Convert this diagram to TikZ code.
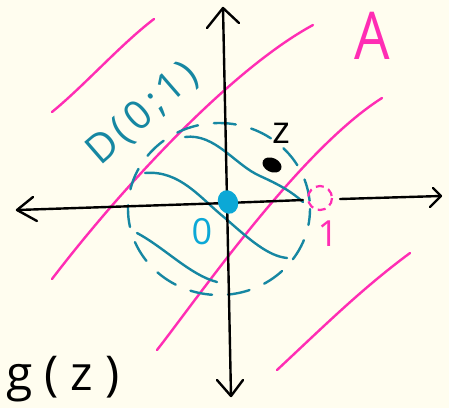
\documentclass[tikz,border=0pt]{standalone}
\usepackage{fontspec}
\setmainfont{Open Sans}
\definecolor{bg}{RGB}{255,253,239}
\definecolor{pinkc}{RGB}{255,45,180}
\definecolor{tealc}{RGB}{22,135,162}
\definecolor{cyanc}{RGB}{12,168,214}
\tikzset{
  pinkline/.style={draw=pinkc, line width=2.4pt, line cap=round, line join=round},
  axisline/.style={draw=black, line width=2.4pt, line cap=round, line join=round},
  tealline/.style={draw=tealc, line width=2.4pt, line cap=round},
  lbl/.style={inner sep=0pt, anchor=center},
}
\begin{document}
\begin{tikzpicture}[x=1pt,y=-1pt]
\useasboundingbox[fill=bg] (0,0) rectangle (449,408);
% coordinates for axes
\coordinate (ytop) at (223,8);
\coordinate (ymid) at (227,200);
\coordinate (ybot) at (231,396);
\coordinate (xleft) at (17,210);
\coordinate (xmid) at (227,203);
\coordinate (xgap) at (303,200);
\coordinate (xres) at (340,199);
\coordinate (xright) at (441,196);
% pink lines
\draw[pinkline] (52,112) .. controls (85,85) and (120,45) .. (154,19);
\draw[pinkline] (52,279) .. controls (120,190) and (230,70) .. (313,25);
\draw[pinkline] (157,350) .. controls (200,295) and (300,150) .. (382,98);
\draw[pinkline] (277,370) .. controls (320,330) and (360,290) .. (410,253);
% teal dashed disc
\draw[tealline, dash pattern=on 22pt off 16pt, dash phase=6pt] (219,209) ellipse [x radius=91, y radius=86];
% teal wavy lines
\draw[tealline] (185,137) .. controls (215,133) and (235,165) .. (260,176) .. controls (280,185) and (292,192) .. (303,202);
\draw[tealline] (145,173) .. controls (180,170) and (200,198) .. (225,218) .. controls (250,240) and (268,256) .. (287,258);
\draw[tealline] (137,233) .. controls (165,248) and (190,275) .. (217,282);
% axes
\draw[axisline] (ytop) -- (ymid) -- (ybot);
\draw[axisline] (xleft) -- (xmid) -- (xgap);
\draw[axisline] (xres) -- (xright);
\draw[axisline] (207,28) -- (ytop) -- (239,23);
\draw[axisline] (217,380) -- (ybot) -- (243,380);
\draw[axisline] (33,197) -- (xleft) -- (37,221);
\draw[axisline] (433,188) -- (xright) -- (430,207);
% small pink dashed circle at 1
\draw[pinkc, line width=2.2pt, dash pattern=on 8pt off 5pt] (320,198) circle [radius=12];
% dots
\fill[black, rotate around={-25:(272,165)}] (272,165) ellipse [x radius=10, y radius=7];
\fill[cyanc, rotate around={20:(228,202)}] (228,202) ellipse [x radius=10, y radius=12];
% labels
\node[lbl, text=black, font=\fontsize{38}{38}\selectfont] (zl) at (281,133) {z};
\node[lbl, text=cyanc, font=\fontsize{36}{36}\selectfont] (ol) at (202,232) {0};
\node[lbl, text=pinkc, font=\fontsize{36}{36}\selectfont] (onel) at (328,234) {1};
\node[lbl, text=pinkc, font=\fontsize{66}{66}\selectfont, xscale=0.85] (al) at (372,36) {A};
\node[lbl, text=tealc, rotate=41, font=\fontsize{40}{40}\selectfont\addfontfeature{LetterSpace=12}] (dl) at (143,114) {D(0;1)};
\node[lbl, text=black, font=\fontsize{48}{48}\selectfont\addfontfeature{LetterSpace=25}] (gl) at (63,379) {g(z)};
\end{tikzpicture}
\end{document}
